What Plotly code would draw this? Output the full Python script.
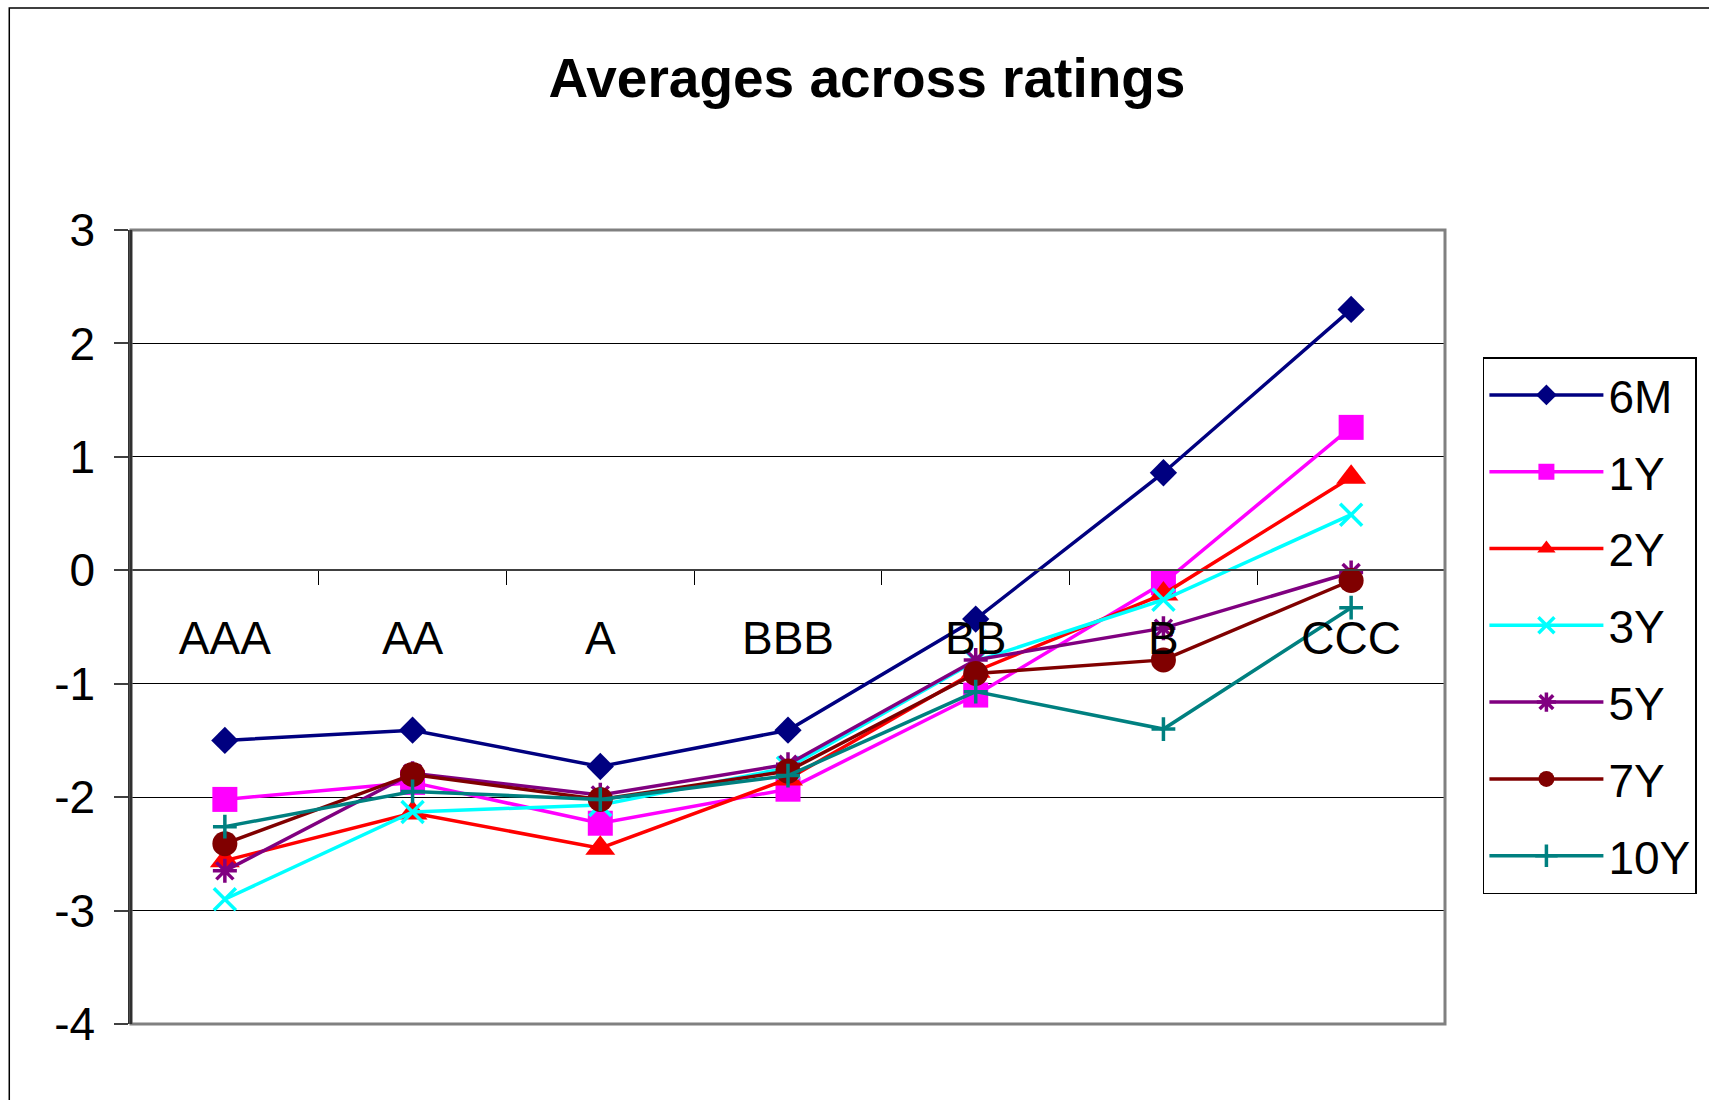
import plotly.graph_objects as go

# Rating buckets along the x axis
ratings = ["AAA", "AA", "A", "BBB", "BB", "B", "CCC"]

# Average values per maturity bucket
s_6m = [-1.50, -1.41, -1.73, -1.41, -0.43, 0.86, 2.30]
s_1y = [-2.02, -1.87, -2.23, -1.93, -1.10, -0.11, 1.26]
s_2y = [-2.56, -2.14, -2.45, -1.84, -0.89, -0.21, 0.82]
s_3y = [-2.90, -2.13, -2.07, -1.74, -0.80, -0.26, 0.49]
s_5y = [-2.65, -1.79, -1.98, -1.71, -0.79, -0.51, -0.02]
s_7y = [-2.41, -1.80, -2.02, -1.77, -0.91, -0.79, -0.09]
s_10y = [-2.26, -1.95, -2.02, -1.81, -1.07, -1.40, -0.33]

y_ticks = [3, 2, 1, 0, -1, -2, -3, -4]

FONT = "Liberation Sans, Arial, sans-serif"

series = [
    ("6M", s_6m, "#000080", "diamond", 21, 0),
    ("1Y", s_1y, "#FF00FF", "square", 25, 0),
    ("2Y", s_2y, "#FF0000", "triangle-up", 26, 0),
    ("3Y", s_3y, "#00FFFF", "x-thin", 22, 3.5),
    ("5Y", s_5y, "#800080", "asterisk", 20, 3.5),
    ("7Y", s_7y, "#800000", "circle", 25, 0),
    ("10Y", s_10y, "#008080", "cross-thin", 17, 3.5),
]

fig = go.Figure()
for name, vals, color, symbol, size, mlw in series:
    fig.add_trace(go.Scatter(
        x=ratings, y=vals, name=name, legendgroup=name,
        mode="lines+markers",
        line=dict(color=color, width=3.5),
        marker=dict(symbol=symbol, size=size, color=color,
                    line=dict(color=color, width=mlw)),
        cliponaxis=False,
    ))

# plot area in pixels: x 131..1448, y 230..1024
L, R, T, B = 131, 1709 - 1448, 230, 1100 - 1024
PW, PH = 1709 - L - R, 1100 - T - B

def px_x(px):
    return (px - L) / PW

def px_y(py):
    return (1100 - B - py) / PH

fig.update_layout(
    width=1709, height=1100,
    margin=dict(l=L, r=R, t=T, b=B),
    paper_bgcolor="white", plot_bgcolor="white",
    font=dict(family=FONT, size=46, color="black"),
    title=dict(text="<b>Averages across ratings</b>", x=867 / 1709, xref="container",
               xanchor="center", y=1 - 78 / 1100, yref="container", yanchor="middle",
               font=dict(family=FONT, size=55, color="black")),
    showlegend=True,
    legend=dict(x=px_x(1486), xanchor="left", y=px_y(357), yanchor="top",
                bgcolor="white", bordercolor="black", borderwidth=1.5,
                font=dict(family=FONT, size=46, color="black"),
                tracegroupgap=14, itemwidth=114),
    xaxis=dict(
        type="category", categoryorder="array", categoryarray=ratings,
        range=[-0.5, 6.5], anchor="free", position=4 / 7,
        showline=True, linecolor="#404040", linewidth=2,
        ticks="outside", tickson="boundaries", ticklen=14, tickcolor="black", tickwidth=1,
        showgrid=False, zeroline=False, ticklabelstandoff=28,
        tickfont=dict(family=FONT, size=46, color="black"),
    ),
    yaxis=dict(
        range=[-4, 3], tickvals=y_ticks, ticktext=[str(v) for v in y_ticks],
        showgrid=True, gridcolor="black", gridwidth=1,
        showline=True, linecolor="#303030", linewidth=2.5,
        ticks="outside", ticklen=14, tickcolor="#404040", tickwidth=2,
        zeroline=False, ticklabelstandoff=10,
        tickfont=dict(family=FONT, size=46, color="black"),
    ),
    shapes=[
        # plot area frame
        dict(type="rect", xref="paper", yref="paper", x0=0, x1=1, y0=0, y1=1,
             line=dict(color="#808080", width=3), layer="above"),
        # left axis over the frame
        dict(type="line", xref="paper", yref="paper", x0=0, x1=0, y0=0, y1=1,
             line=dict(color="#303030", width=2.5), layer="above"),
        # chart border
        dict(type="rect", xref="paper", yref="paper",
             x0=px_x(9), x1=px_x(1800), y0=px_y(1200), y1=px_y(8),
             line=dict(color="black", width=1.5), layer="below"),
    ],
)

fig.write_html("out.html")
